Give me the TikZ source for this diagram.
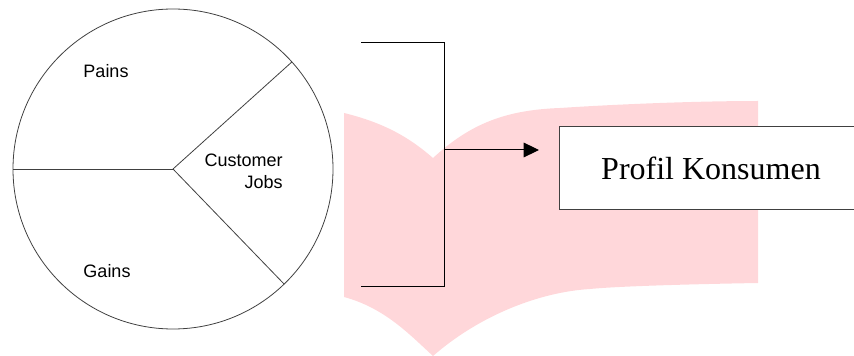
\documentclass[tikz,border=0pt]{standalone}
\usepackage{fontspec}
\setmainfont{Liberation Serif}
\setsansfont{Liberation Sans}
\usetikzlibrary{arrows.meta}
\definecolor{pinkfill}{HTML}{FFD7DA}
\definecolor{lineg}{HTML}{404040}
\tikzset{
  lbl/.style={font=\sffamily\fontsize{13.5pt}{16.5pt}\selectfont, inner sep=0pt},
  thinline/.style={draw=lineg, line width=0.6pt},
  brk/.style={draw=black, line width=0.75pt},
  profbox/.style={draw=lineg, line width=0.75pt, fill=white, minimum width=228pt, minimum height=62.25pt, inner sep=0pt, font=\fontsize{24pt}{28pt}\selectfont}
}
\begin{document}
\begin{tikzpicture}[x=0.75pt, y=-0.75pt]
\useasboundingbox (0,0) rectangle (854,356);
% pink banner
\fill[pinkfill] (344,113) .. controls (385,123) and (410,138) .. (433,158)
  .. controls (470,124) and (505,110) .. (560,108)
  .. controls (620,104) and (700,101) .. (758,101)
  -- (758,283)
  .. controls (700,284) and (620,286) .. (590,289)
  .. controls (540,292) and (480,315) .. (433,356)
  .. controls (410,335) and (385,308) .. (344,297) -- cycle;
% circle
\node[circle, thinline, minimum size=240pt, inner sep=0pt, outer sep=0pt] (c) at (173,169) {};
\draw[thinline] (c.center) -- (c.180);
\draw[thinline] (c.center) -- (c.42);
\draw[thinline] (c.center) -- (c.-46);
\node[lbl] (pains) at (106,71) {Pains};
\node[lbl] (gains) at (107,271) {Gains};
\node[lbl, align=right, anchor=east] (jobs) at (283,171) {Customer\\Jobs};
% bracket
\coordinate (bt1) at (361,43);
\coordinate (bt2) at (444,43);
\coordinate (bb1) at (361,287);
\coordinate (bb2) at (444,287);
\coordinate (bm) at (444,150);
\coordinate (ae) at (539,150);
\draw[brk] (bt1) -- (bt2) -- (bb2) -- (bb1);
\draw[brk, -{Triangle[length=11.5pt, width=11pt]}] (bm) -- (ae);
% profile box
\node[profbox] (prof) at (711,168.5) {Profil Konsumen};
\end{tikzpicture}
\end{document}
